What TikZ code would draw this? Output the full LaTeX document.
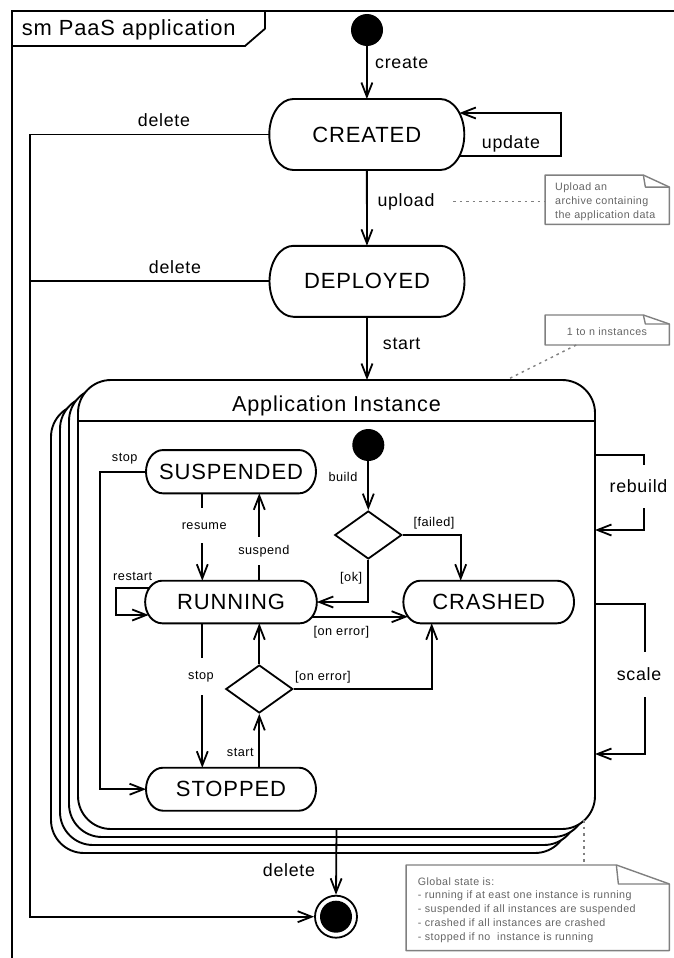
\documentclass[tikz,border=0pt]{standalone}
\usepackage{fontspec}
\setmainfont{Liberation Sans}[LetterSpace=4]
\usetikzlibrary{arrows.meta,calc,shapes.geometric}

\definecolor{notegray}{RGB}{128,128,128}
\definecolor{notetext}{RGB}{100,100,100}

\newcommand\statefont{\fontsize{22}{26}\selectfont}
\newcommand\framefont{\fontsize{21.9}{26}\selectfont}
\newcommand\titlefont{\fontsize{21.6}{25}\selectfont}
\newcommand\lblfont{\fontsize{17.8}{21}\selectfont}
\newcommand\smallfont{\fontsize{12.7}{15}\selectfont}
\newcommand\notefont{\fontsize{10.7}{13.8}\selectfont}

% state with elliptical ends: name, x, y, width, height, end radius, text
\newcommand\umlstate[7]{%
  \node[statetxt, minimum width=#4pt, minimum height=#5pt] (#1) at (#2,#3) {#7};
  \draw[stateline] ($(#2,#3)+({-#4/2+#6},{#5/2})$) -- ($(#2,#3)+({#4/2-#6},{#5/2})$)
    arc[start angle=90, end angle=-90, x radius=#6, y radius=#5/2]
    -- ($(#2,#3)+({-#4/2+#6},{-#5/2})$)
    arc[start angle=270, end angle=90, x radius=#6, y radius=#5/2] -- cycle;
}

% note outline with folded corner: node name, fold width, fold height
\newcommand\drawnote[3]{%
  \draw[noteline] (#1.north west) -- ($(#1.north east)+(-#2,0)$) -- ($(#1.north east)+(0,-#3)$)
    -- (#1.south east) -- (#1.south west) -- cycle;
  \draw[noteline] ($(#1.north east)+(-#2,0)$) -- ($(#1.north east)+({-#2+2},-#3)$)
    -- ($(#1.north east)+(0,-#3)$);
}

\tikzset{
  conn/.style={line width=1.8pt, line join=miter},
  trans/.style={conn, -{Straight Barb[length=14pt,width=11pt]}},
  stateline/.style={line width=1.9pt},
  boxline/.style={line width=1.9pt, fill=white, rounded corners=33pt},
  statetxt/.style={font=\statefont, inner sep=0pt, outer sep=0pt},
  lbl/.style={font=\lblfont, inner sep=0pt},
  slbl/.style={font=\smallfont, inner sep=0pt},
  gaplbl/.style={slbl, fill=white, inner xsep=2pt},
  gapbig/.style={lbl, fill=white, inner xsep=2pt},
  initial/.style={circle, fill=black, minimum size=32pt, inner sep=0pt},
  finalst/.style={circle, draw, line width=1.8pt, minimum size=42pt, inner sep=0pt},
  decision/.style={diamond, draw, line width=1.8pt, minimum width=67pt,
    minimum height=48pt, inner sep=0pt, aspect=1.4},
  notebox/.style={inner sep=0pt, outer sep=0pt},
  noteline/.style={draw=notegray, line width=1.4pt, line join=round},
  notetxt/.style={font=\notefont, text=notetext, inner sep=0pt, align=left},
  dotline/.style={draw=notegray, line width=1.4pt, dash pattern=on 2.5pt off 4pt},
}

\begin{document}
\begin{tikzpicture}[x=1pt,y=1pt]
\useasboundingbox (0,0) rectangle (673,-958);

% diagram frame and its name tag
\draw[conn] (12,-990) -- (12,-11) -- (700,-11);
\draw[conn] (12,-46) -- (245,-46) -- (265,-28.7) -- (265,-11);
\node[anchor=base west, font=\framefont, inner sep=0pt] (framename) at (21.7,-36) {sm PaaS application};
\coordinate (leftrail) at (30,0);

% top level states
\node[initial] (init) at (367,-30) {};
\umlstate{created}{366.8}{-134.5}{195}{71}{24}{CREATED}
\umlstate{deployed}{367}{-281.3}{195}{71}{24}{DEPLOYED}

% composite state with its stacked instances
\foreach \k in {3,2,1}
  \draw[boxline] ({78-9*\k},{-380-8*\k}) rectangle ({595-9*\k},{-829-8*\k});
\node[minimum width=517pt, minimum height=449pt, inner sep=0pt, outer sep=0pt] (ai) at (336.5,-604.5) {};
\draw[boxline] (ai.north west) rectangle (ai.south east);
\draw[stateline] (ai.west |- 0,-421) -- (ai.east |- 0,-421);
\node[anchor=base, font=\titlefont, inner sep=0pt] (aititle) at (336.5,-411.7) {Application Instance};

% inner states
\node[initial] (init2) at (368.3,-445) {};
\node[decision] (dec1) at (368.3,-535) {};
\umlstate{suspended}{231}{-471.7}{170}{43.3}{17}{SUSPENDED}
\umlstate{running}{231}{-602}{171.7}{42.6}{17}{RUNNING}
\umlstate{crashed}{488.7}{-602}{170.7}{42.6}{17}{CRASHED}
\umlstate{stopped}{231}{-789.2}{170}{43}{17}{STOPPED}
\node[decision] (dec2) at (259.3,-689) {};

% final state
\node[finalst] (final) at (336,-916.7) {};
\fill (final.center) circle[radius=16];

% top level transitions
\draw[trans] (init) -- (created);
\draw[trans] ($(created.east)+(-4.9,-21.5)$) -- ++(101.6,0) -- ++(0,43) -- ($(created.east)+(-4.9,21.5)$);
\draw[trans] (created.west) -- (created.west -| leftrail) |- (final.west);
\draw[conn] (deployed.west) -- (deployed.west -| leftrail);
\draw[trans] (created) -- (deployed);
\draw[trans] (deployed.south) -- (deployed.south |- ai.north);
\draw[trans] (ai.east |- 0,-455) -- (644,-455) -- (644,-530) -- (ai.east |- 0,-530);
\draw[trans] (ai.east |- 0,-604) -- (645,-604) -- (645,-754) -- (ai.east |- 0,-754);
\draw[trans] (ai.south) -- (final.north);

% inner transitions
\draw[trans] (init2) -- (dec1);
\draw[trans] (dec1.east) -| ($(crashed.north)+(-28,0)$);
\draw[trans] (dec1.south) |- (running.east);
\draw[trans] ($(running.east)+(-4.7,-14.7)$) -- ($(crashed.west)+(4.7,-14.7)$);
\draw[trans] ($(suspended.south)+(-28.7,0)$) -- ($(running.north)+(-28.7,0)$);
\draw[trans] ($(running.north)+(28.3,0)$) -- ($(suspended.south)+(28.3,0)$);
\draw[trans] (suspended.west) -- ++(-46,0) |- (stopped.west);
\draw[trans] ($(running.west)+(4,13.7)$) -- ++(-33.5,0) -- ++(0,-26.7) -- ($(running.west)+(3.5,-13)$);
\draw[trans] ($(running.south)+(-28.7,0)$) -- ($(stopped.north)+(-28.7,0)$);
\draw[trans] ($(stopped.north)+(28.3,0)$) -- (dec2.south);
\draw[trans] (dec2.north) -- ($(running.south)+(28.3,0)$);
\draw[trans] (dec2.east) -| ($(crashed.south)+(-57,0)$);

% transition labels
\node[lbl, anchor=base west] (lcreate) at (375,-68.3) {create};
\node[lbl, anchor=base west] (lupdate) at (481.7,-148) {update};
\node[lbl, anchor=base] (ldelete1) at (164,-126.7) {delete};
\node[lbl, anchor=base] (ldelete2) at (175,-273.3) {delete};
\node[lbl, anchor=base west] (lupload) at (377.3,-206.7) {upload};
\node[lbl, anchor=base west] (lstart) at (382.7,-349.3) {start};
\node[gapbig, minimum height=43pt] (lrebuild) at (638.5,-486.5) {rebuild};
\node[gapbig, minimum height=45pt] (lscale) at (639,-674.2) {scale};
\node[lbl, anchor=base west] (ldelete3) at (262.7,-876) {delete};

\node[slbl, anchor=base west] (lbuild) at (328.3,-481.7) {build};
\node[slbl, anchor=base west] (lfailed) at (413.3,-526) {[failed]};
\node[slbl, anchor=base west] (lok) at (340,-581) {[ok]};
\node[slbl, anchor=base west] (lerr1) at (313.3,-635) {[on error]};
\node[slbl, anchor=base west] (lerr2) at (295,-680) {[on error]};
\node[slbl, anchor=base west] (lstop1) at (111.7,-461.7) {stop};
\node[slbl, anchor=base west] (lrestart) at (113,-580.5) {restart};
\node[slbl, anchor=base west] (lstart2) at (226.7,-756.7) {start};
\node[gaplbl, minimum height=35pt] (lresume) at (204.2,-525.8) {resume};
\node[gaplbl, minimum height=28.3pt] (lsuspend) at (263.8,-550.8) {suspend};
\node[gaplbl, minimum height=36.7pt] (lstop2) at (201,-676.7) {stop};

% notes
\node[notebox, minimum width=124.3pt, minimum height=49.3pt] (note1) at (607.2,-199.7) {};
\drawnote{note1}{26}{12}
\node[notetxt, anchor=north west] (note1txt) at (555,-182.9) {Upload an\\archive containing\\the application data};
\coordinate (uploadref) at (453,-201.7);
\draw[dotline] (uploadref) -- (note1.west |- uploadref);

\node[notebox, minimum width=124.3pt, minimum height=30pt] (note2) at (607.2,-330) {};
\drawnote{note2}{26}{9}
\node[notetxt, anchor=base] (note2txt) at (607,-335) {1 to n instances};
\draw[dotline] ($(note2.south)+(-31,0)$) -- ($(ai.north)+(170,0)$);

\node[notebox, minimum width=263.3pt, minimum height=85.7pt] (note3) at (537.7,-907.8) {};
\drawnote{note3}{53}{19}
\node[notetxt, anchor=north west] (note3txt) at (417.7,-877.2) {Global state is:\\- running if at east one instance is running\\- suspended if all instances are suspended\\- crashed if all instances are crashed\\- stopped if no \ instance is running};
\coordinate (aicorner) at (584,-820);
\draw[dotline] (aicorner) -- (aicorner |- note3.north);
\end{tikzpicture}
\end{document}
